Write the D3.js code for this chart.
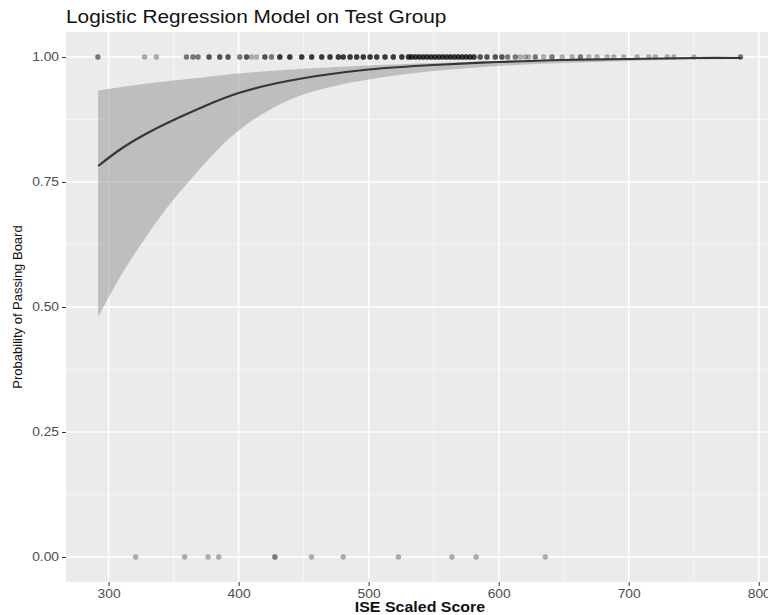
<!DOCTYPE html>
<html>
<head>
<meta charset="utf-8">
<script src="https://cdn.jsdelivr.net/npm/d3@7"></script>
<style>
  body { margin: 0; background: #fff; }
  text { font-family: "Liberation Sans", Arial, sans-serif; }
</style>
</head>
<body>
<div id="chart"></div>
<script>
// logistic fit of board pass vs ISE scaled score
const width = 768;
const height = 615;
const margin = {top: 32, left: 66, bottom: 33, right: -6};

// observed scores, passed (y = 1), with how many students sit on each spot
const passScores = [291.8, 327.7, 336.7, 359.9, 364.9, 368.8, 377.3, 385.5, 391.9, 400.9, 406.1, 409.9, 413.8, 420.2,
  425.3, 431.7, 439.4, 448.5, 456.2, 463.9, 470.3, 476.7, 480.5, 485.7, 490.8, 495.9, 501.1, 506.2, 512.6, 519, 525.5,
  530.6, 533, 536, 539, 542, 545, 548, 551, 554, 557, 560, 563, 566, 569, 572, 575, 578, 581, 585.8, 591, 597.4, 602.5,
  607, 612.8, 616.6, 620.5, 623, 628.2, 634.6, 641, 648.8, 656.5, 662.9, 669.3, 675.7, 683.4, 688.5, 696.2, 706.5,
  715.5, 720.6, 729.6, 734.7, 750.2, 786];
const passCounts = [2, 1, 1, 2, 2, 2, 3, 3, 3, 2, 3, 1, 1, 3,
  2, 4, 4, 4, 4, 4, 4, 4, 4, 4, 4, 4, 4, 4, 4, 4, 4,
  4, 4, 4, 4, 4, 4, 4, 4, 4, 4, 4, 4, 4, 4, 4, 4, 4, 4, 3, 3, 3, 3,
  2, 2, 1, 1, 1, 2, 1, 2, 1, 1, 2, 1, 1, 1, 1, 1, 1,
  1, 1, 1, 1, 1, 2];
// failed (y = 0)
const failScores = [320.8, 358.5, 376.5, 384.7, 427.9, 427.9, 456, 480.5, 522.9, 564, 582.7, 635.9];

// fitted curve and 95% band
const fitScores = [292, 310, 330, 350, 375, 400, 430, 460, 500, 550, 600, 650, 700, 750, 787];
const fitProb   = [0.782, 0.817, 0.848, 0.874, 0.903, 0.928, 0.948, 0.962, 0.975, 0.984, 0.990, 0.994, 0.996, 0.998, 0.998];
const fitLower  = [0.48, 0.565, 0.645, 0.715, 0.79, 0.853, 0.903, 0.933, 0.955, 0.972, 0.982, 0.988, 0.992, 0.995, 0.996];
const fitUpper  = [0.933, 0.94, 0.947, 0.953, 0.96, 0.967, 0.973, 0.978, 0.983, 0.988, 0.992, 0.995, 0.997, 0.999, 0.999];

const xTicks = [300, 400, 500, 600, 700, 800];
const yTicks = [0, 0.25, 0.5, 0.75, 1];
const minorX = [350, 450, 550, 650, 750];
const minorY = [0.125, 0.375, 0.625, 0.875];

const fit = fitScores.map((s, i) => ({s, p: fitProb[i], lo: fitLower[i], hi: fitUpper[i]}));
const passPts = passScores.flatMap((s, i) => d3.range(passCounts[i]).map(() => s));

const x = d3.scaleLinear()
  .domain([267.25, 811.75])
  .range([margin.left, width - margin.right]);

const y = d3.scaleLinear()
  .domain([-0.05, 1.05])
  .range([height - margin.bottom, margin.top]);

const svg = d3.select('#chart').append('svg')
  .attr('width', width).attr('height', height);

// stretch text a bit wider, the reference is squashed sideways
const stretch = (sel, k) => sel.each(function() {
  const len = this.getComputedTextLength();
  d3.select(this).attr('textLength', len * k).attr('lengthAdjust', 'spacingAndGlyphs');
});

svg.append('rect')
  .attr('x', margin.left).attr('y', margin.top)
  .attr('width', x.range()[1] - margin.left)
  .attr('height', y.range()[0] - margin.top)
  .attr('fill', '#ebebeb');

const grid = svg.append('g');
grid.selectAll('.mx').data(minorX).enter().append('line')
  .attr('x1', d => x(d)).attr('x2', d => x(d))
  .attr('y1', margin.top).attr('y2', y.range()[0])
  .attr('stroke', '#f7f7f7').attr('stroke-width', 0.8);
grid.selectAll('.my').data(minorY).enter().append('line')
  .attr('y1', d => y(d)).attr('y2', d => y(d))
  .attr('x1', margin.left).attr('x2', x.range()[1])
  .attr('stroke', '#f7f7f7').attr('stroke-width', 0.8);
grid.selectAll('.gx').data(xTicks).enter().append('line')
  .attr('x1', d => x(d)).attr('x2', d => x(d))
  .attr('y1', margin.top).attr('y2', y.range()[0])
  .attr('stroke', '#fff').attr('stroke-width', 1.5);
grid.selectAll('.gy').data(yTicks).enter().append('line')
  .attr('y1', d => y(d)).attr('y2', d => y(d))
  .attr('x1', margin.left).attr('x2', x.range()[1])
  .attr('stroke', '#fff').attr('stroke-width', 1.5);

// band
svg.append('path')
  .datum(fit)
  .attr('d', d3.area().curve(d3.curveNatural)
    .x(d => x(d.s)).y0(d => y(d.lo)).y1(d => y(d.hi)))
  .attr('fill', '#999').attr('fill-opacity', 0.55);

// points
const pts = svg.append('g').attr('fill', '#000').attr('fill-opacity', 0.3);
pts.selectAll('.p').data(passPts).enter().append('circle')
  .attr('cx', d => x(d)).attr('cy', y(1)).attr('r', 2.7);
pts.selectAll('.f').data(failScores).enter().append('circle')
  .attr('cx', d => x(d)).attr('cy', y(0)).attr('r', 2.7);

// fitted line
svg.append('path')
  .datum(fit)
  .attr('d', d3.line().curve(d3.curveNatural).x(d => x(d.s)).y(d => y(d.p)))
  .attr('fill', 'none').attr('stroke', '#363636').attr('stroke-width', 2.2);

// axes
const xAxis = g => g
  .attr('transform', `translate(0, ${y.range()[0]})`)
  .call(d3.axisBottom(x).tickValues(xTicks).tickSize(4).tickPadding(3).tickFormat(d3.format('d')))
  .call(g => g.select('.domain').remove())
  .call(g => g.selectAll('line').attr('stroke', '#333'))
  .call(g => g.selectAll('text').attr('fill', '#4d4d4d').style('font-size', '12px'));

const yAxis = g => g
  .attr('transform', `translate(${margin.left}, 0)`)
  .call(d3.axisLeft(y).tickValues(yTicks).tickSize(4).tickPadding(3).tickFormat(d3.format('.2f')))
  .call(g => g.select('.domain').remove())
  .call(g => g.selectAll('line').attr('stroke', '#333'))
  .call(g => g.selectAll('text').attr('fill', '#4d4d4d').style('font-size', '12px'));

svg.append('g').call(xAxis).selectAll('text').call(stretch, 1.15);
svg.append('g').call(yAxis).selectAll('text').call(stretch, 1.15);

svg.append('text')
  .attr('x', margin.left).attr('y', 23)
  .style('font-size', '17.5px').attr('fill', '#111')
  .text('Logistic Regression Model on Test Group')
  .call(stretch, 1.19);

svg.append('text')
  .attr('x', (margin.left + x.range()[1]) / 2).attr('y', 612)
  .attr('text-anchor', 'middle')
  .style('font-size', '14px').style('font-weight', 'bold').attr('fill', '#111')
  .text('ISE Scaled Score')
  .call(stretch, 1.14);

svg.append('text')
  .attr('transform', `translate(22, ${(margin.top + y.range()[0]) / 2}) rotate(-90)`)
  .attr('text-anchor', 'middle')
  .style('font-size', '13px').attr('fill', '#111')
  .text('Probability of Passing Board');
</script>
</body>
</html>
